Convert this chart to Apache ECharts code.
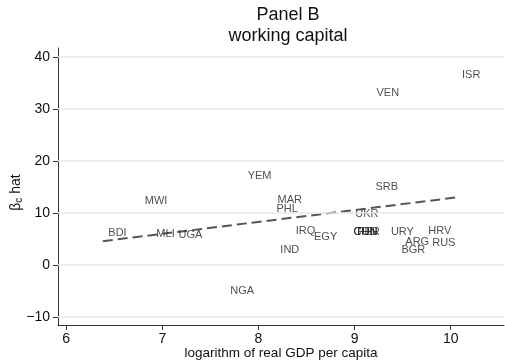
<!DOCTYPE html>
<html>
<head>
<meta charset="utf-8">
<script src="https://cdn.jsdelivr.net/npm/echarts@6/dist/echarts.min.js"></script>
<style>html,body{margin:0;padding:0;background:#fff}#c{width:505px;height:360px}</style>
</head>
<body>
<div id="c"></div>
<script>
const countries = ["ISR","VEN","YEM","SRB","MAR","PHL","UKR","IRQ","EGY","IND","COL","CHN","TUN","PER","URY","HRV","ARG","RUS","BGR","BDI","MWI","MLI","UGA","NGA"];
const logGdp = [10.06,9.17,7.83,9.16,8.14,8.13,8.95,8.33,8.52,8.17,8.93,8.93,8.95,8.97,9.32,9.71,9.47,9.75,9.43,6.38,6.76,6.88,7.11,7.65];
const betaHat = [36.5,33.0,17.1,15.1,12.5,10.7,9.8,6.5,5.5,3.0,6.4,6.4,6.4,6.3,6.4,6.5,4.5,4.3,3.0,6.1,12.4,5.9,5.7,-4.9];
const fitX = [6.38, 10.06];
const fitY = [4.6, 13.0];
const xTicks = [6,7,8,9,10];
const yTicks = [-10,0,10,20,30,40];

const FONT = '"Liberation Sans", Arial, sans-serif';
const chart = echarts.init(document.getElementById('c'), null, {renderer:'canvas'});
const pts = countries.map((c,i)=>({value:[logGdp[i], betaHat[i]], name:c}));
const minus = v => String(v).replace('-', '\u2212');
chart.setOption({
  animation:false,
  textStyle:{fontFamily:FONT},
  title:{
    text:'Panel B\nworking capital',
    left:283, top:0, textAlign:'center',
    textStyle:{fontFamily:FONT, fontSize:18, fontWeight:'normal', color:'#111', lineHeight:21}
  },
  grid:{left:58, right:1, top:48, bottom:35, containLabel:false, outerBoundsMode:'none'},
  xAxis:{
    type:'value', min:5.914, max:10.554,
    name:'logarithm of real GDP per capita', nameLocation:'middle', nameGap:21, nameMoveOverlap:false,
    nameTextStyle:{fontFamily:FONT, fontSize:13.5, color:'#111'},
    axisLine:{onZero:false, lineStyle:{color:'#333', width:1}},
    axisTick:{show:true, length:5, customValues:xTicks, lineStyle:{color:'#333'}},
    axisLabel:{customValues:xTicks, fontFamily:FONT, fontSize:14, color:'#111', margin:7, formatter:minus},
    splitLine:{show:false}
  },
  yAxis:{
    type:'value', min:-11.5, max:41.7,
    name:'{b|β}{s|c}{b| hat}', nameLocation:'middle', nameGap:34, nameRotate:90, nameMoveOverlap:false,
    nameTextStyle:{padding:[0,0,0,-12], rich:{b:{fontFamily:FONT, fontSize:14, color:'#111'}, s:{fontFamily:FONT, fontSize:10, color:'#111', verticalAlign:'bottom', padding:[6,0,0,0]}}},
    axisLine:{show:true, onZero:false, lineStyle:{color:'#333', width:1}},
    axisTick:{show:true, length:5, customValues:yTicks, lineStyle:{color:'#333'}},
    axisLabel:{customValues:yTicks, fontFamily:FONT, fontSize:14, color:'#111', margin:8, formatter:minus},
    splitLine:{show:false}
  },
  series:[
    {
      type:'line', data:[], silent:true, z:1,
      markLine:{
        symbol:'none', silent:true, label:{show:false},
        lineStyle:{color:'#e6e6e6', width:1.5, type:'solid'},
        data: yTicks.map(v=>({yAxis:v}))
      }
    },
    {
      type:'line', data:fitX.map((x,i)=>[x, fitY[i]]), symbol:'none',
      lineStyle:{color:'#555', width:2, type:[10,5]}, z:3
    },
    {
      type:'scatter', data:pts, symbolSize:1,
      itemStyle:{color:'rgba(0,0,0,0)'},
      label:{show:true, position:'right', distance:5, formatter:'{b}', fontFamily:FONT, fontSize:11, color:'#222'},
      labelLayout:{hideOverlap:false}, z:4
    }
  ]
});
</script>
</body>
</html>
